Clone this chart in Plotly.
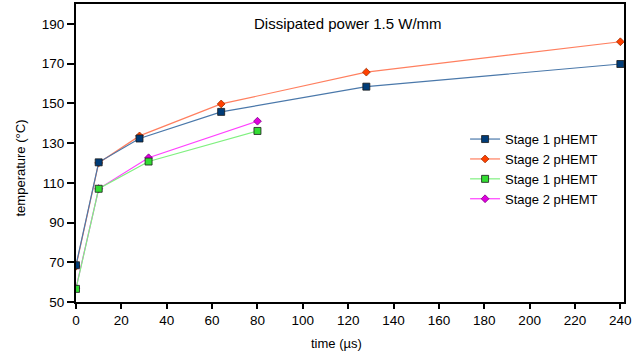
import plotly.graph_objects as go

s1a_x = [0, 10, 28, 64, 128, 240]
s1a_y = [68.5, 120.3, 132.3, 145.7, 158.4, 169.8]
s2a_x = [0, 10, 28, 64, 128, 240]
s2a_y = [68.0, 120.0, 133.6, 149.7, 165.7, 181.0]
s1b_x = [0, 10, 32, 80]
s1b_y = [56.6, 107.0, 120.7, 136.1]
s2b_x = [0, 10, 32, 80]
s2b_y = [57.0, 107.0, 122.6, 141.0]
names = ["Stage 1 pHEMT", "Stage 2 pHEMT", "Stage 1 pHEMT", "Stage 2 pHEMT"]

fig = go.Figure()
fig.add_trace(go.Scatter(x=s2a_x, y=s2a_y, name=names[1], mode="lines+markers",
                         line=dict(color="#FF7F5F", width=1.2),
                         marker=dict(symbol="diamond", size=6, color="#FF4000",
                                     line=dict(color="#A03000", width=0.8)), legendrank=2))
fig.add_trace(go.Scatter(x=s1a_x, y=s1a_y, name=names[0], mode="lines+markers",
                         line=dict(color="#4A78AA", width=1.2),
                         marker=dict(symbol="square", size=7, color="#003C78",
                                     line=dict(color="#1A1A1A", width=0.8)), legendrank=1))
fig.add_trace(go.Scatter(x=s2b_x, y=s2b_y, name=names[3], mode="lines+markers",
                         line=dict(color="#FF40FF", width=1.2),
                         marker=dict(symbol="diamond", size=6, color="#E000E0",
                                     line=dict(color="#800080", width=0.8)), legendrank=4))
fig.add_trace(go.Scatter(x=s1b_x, y=s1b_y, name=names[2], mode="lines+markers",
                         line=dict(color="#80F080", width=1.2),
                         marker=dict(symbol="square", size=7, color="#33DD33",
                                     line=dict(color="#1A1A1A", width=0.8)), legendrank=3))

fig.update_layout(
    width=639, height=355,
    margin=dict(l=76, r=15, t=4, b=53),
    paper_bgcolor="white", plot_bgcolor="white",
    font=dict(family="Liberation Sans, Arial, sans-serif", size=13.5, color="black"),
    showlegend=True,
    legend=dict(x=0.71, y=0.597, xanchor="left", yanchor="top",
                bgcolor="rgba(0,0,0,0)", font=dict(size=13), tracegroupgap=0),
    annotations=[
        dict(text="Dissipated power 1.5 W/mm", x=0.497, y=0.936, xref="paper", yref="paper",
             xanchor="center", yanchor="middle", showarrow=False, font=dict(size=15)),
        dict(text="time (µs)", x=0.476, y=-0.1376, xref="paper", yref="paper",
             xanchor="center", yanchor="middle", showarrow=False, font=dict(size=13)),
        dict(text="temperature (°C)", x=-0.1004, y=0.4513, xref="paper", yref="paper",
             xanchor="center", yanchor="middle", showarrow=False, textangle=-90,
             font=dict(size=13)),
    ],
)
fig.update_xaxes(range=[0, 241.6], tickmode="array", tickvals=list(range(0, 241, 20)),
                 ticks="outside", ticklen=5, tickwidth=1.5, tickcolor="black",
                 showline=True, linecolor="black", linewidth=2, mirror=True,
                 showgrid=False, zeroline=False, automargin=False)
fig.update_yaxes(range=[50, 200], tickmode="array", tickvals=list(range(50, 191, 20)),
                 ticks="outside", ticklen=7, tickwidth=1.5, tickcolor="black",
                 showline=True, linecolor="black", linewidth=2, mirror=True,
                 showgrid=False, zeroline=False, automargin=False)
fig.write_html("out.html", config={"displayModeBar": False},
               post_script="document.body.style.margin='0';")
